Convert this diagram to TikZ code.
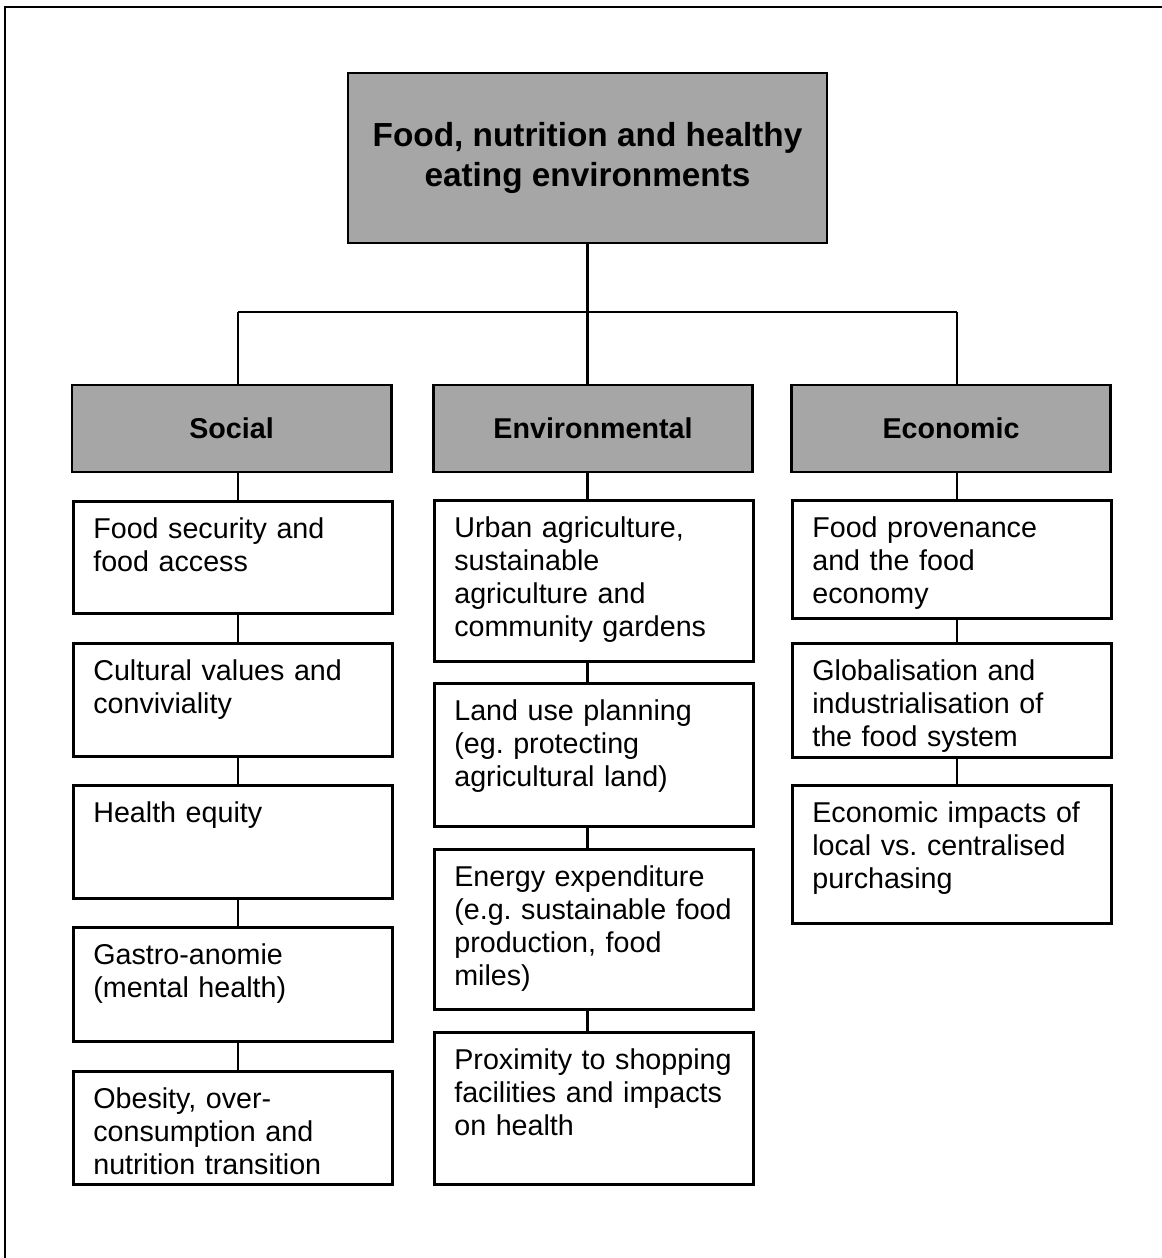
\documentclass[tikz,border=0pt]{standalone}
\usepackage{fontspec}
\setmainfont{Liberation Sans}
\usepackage{xcolor}
\usepackage{tikz}
\usetikzlibrary{positioning}
\definecolor{boxgray}{RGB}{166,166,166}
\frenchspacing

\begin{document}
\begin{tikzpicture}
                [x=0.75pt, y=-0.75pt,
                 top/.style = {draw, line width=2pt, fill=boxgray, minimum width=359.25pt, minimum height=127.5pt, align=center, font=\bfseries\fontsize{25pt}{30pt}\selectfont},
                 head/.style = {draw, line width=2pt, fill=boxgray, minimum width=239.5pt, minimum height=65.25pt, font=\bfseries\fontsize{21.5pt}{24.75pt}\selectfont},
                 item/.style = {draw, line width=2pt, anchor=north west, text width=209.5pt, inner xsep=15pt, inner ysep=6pt, align=left, text height=21.75pt, text depth=#1, font=\fontsize{21.5pt}{24.75pt}\selectfont},
                 link/.style = {line width=2pt}]
                \useasboundingbox (0,0) rectangle (1162,1258);
                % Frame round the figure
                \draw[line width=2pt] (5,1262) -- (5,7) -- (1166,7);
                % Main box
                \node[top] (food) at (587.5,158) {Food, nutrition and healthy\\eating environments};
                % Column headings
                \node[head] (soc) at (231.5,428.5) {Social};
                \node[head] (env) at (593,428.5) {Environmental};
                \node[head] (eco) at (951,428.5) {Economic};
                % Social column
                \node[item=50.25pt] (s1) at (72,500) {Food security and\\food access};
                \node[item=51pt] (s2) at (72,642) {Cultural values and\\conviviality};
                \node[item=51pt] (s3) at (72,784) {Health equity};
                \node[item=51.75pt] (s4) at (72,926) {Gastro-anomie\\(mental health)};
                \node[item=51pt] (s5) at (72,1070) {Obesity, over-\\consumption and\\nutrition transition};
                % Environmental column
                \node[item=87pt] (e1) at (433,499) {Urban agriculture,\\sustainable\\agriculture and\\community gardens};
                \node[item=73.5pt] (e2) at (433,682) {Land use planning\\(eg. protecting\\agricultural land)};
                \node[item=86.25pt] (e3) at (433,848) {Energy expenditure\\(e.g. sustainable food\\production, food\\miles)};
                \node[item=80.25pt] (e4) at (433,1031) {Proximity to shopping\\facilities and impacts\\on health};
                % Economic column
                \node[item=54.75pt] (c1) at (791,499) {Food provenance\\and the food\\economy};
                \node[item=51.75pt] (c2) at (791,642) {Globalisation and\\industrialisation of\\the food system};
                \node[item=69.75pt] (c3) at (791,784) {Economic impacts of\\local vs. centralised\\purchasing};
                % Branch points on the bar
                \coordinate (sx) at (238,312);
                \coordinate (ex) at (587.5,312);
                \coordinate (cx) at (957,312);
                % Lines
                \draw[link] (food.south) -- (ex);
                \draw[link] (sx) -- (cx);
                \draw[link] (sx) -- (sx |- soc.north);
                \draw[link] (ex) -- (ex |- env.north);
                \draw[link] (cx) -- (cx |- eco.north);
                \draw[link] (sx |- soc.south) -- (sx |- s1.north);
                \draw[link] (sx |- s1.south) -- (sx |- s2.north);
                \draw[link] (sx |- s2.south) -- (sx |- s3.north);
                \draw[link] (sx |- s3.south) -- (sx |- s4.north);
                \draw[link] (sx |- s4.south) -- (sx |- s5.north);
                \draw[link] (ex |- env.south) -- (ex |- e1.north);
                \draw[link] (ex |- e1.south) -- (ex |- e2.north);
                \draw[link] (ex |- e2.south) -- (ex |- e3.north);
                \draw[link] (ex |- e3.south) -- (ex |- e4.north);
                \draw[link] (cx |- eco.south) -- (cx |- c1.north);
                \draw[link] (cx |- c1.south) -- (cx |- c2.north);
                \draw[link] (cx |- c2.south) -- (cx |- c3.north);
            \end{tikzpicture}
\end{document}
